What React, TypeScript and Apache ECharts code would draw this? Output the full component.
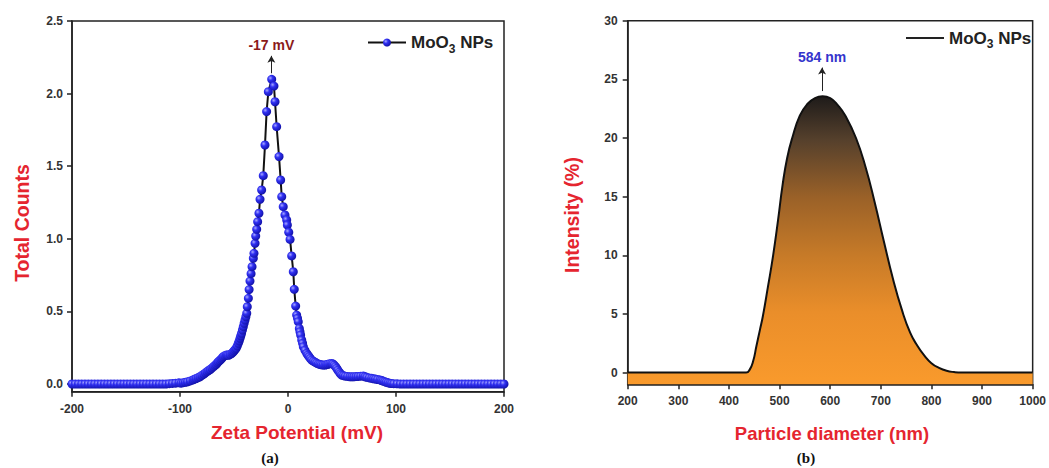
import React, { useEffect, useRef } from "react";
import * as echarts from "echarts";

// ---------- Data ----------
// (a) Zeta potential distribution: [mV, total counts]
const zetaLeftTail: [number, number][] = [
  [-200, 0], [-197, 0], [-194, 0], [-191, 0], [-188, 0], [-185, 0], [-182, 0], [-179, 0],
  [-176, 0], [-173, 0], [-170, 0], [-167, 0], [-164, 0], [-161, 0], [-158, 0], [-155, 0],
  [-152, 0], [-149, 0], [-146, 0], [-143, 0], [-140, 0], [-137, 0], [-134, 0], [-131, 0],
  [-128, 0], [-125, 0], [-122, 0], [-119, 0], [-116, 0], [-113, 0], [-110, 0.002],
  [-107, 0.004], [-104, 0.006], [-101, 0.008],
];
const zetaPeak: [number, number][] = [
  [-99, 0.006], [-97, 0.009], [-95, 0.012], [-93, 0.015], [-90.5, 0.021], [-88, 0.028],
  [-86.5, 0.033], [-85, 0.038], [-83.2, 0.044], [-81.5, 0.05], [-79.8, 0.059], [-78, 0.068],
  [-76.5, 0.077], [-75, 0.085], [-73.5, 0.093], [-72, 0.1], [-70.5, 0.11], [-69, 0.119],
  [-67.7, 0.128], [-66.5, 0.135], [-65.5, 0.145], [-64.5, 0.154], [-63.2, 0.162], [-62, 0.17],
  [-61, 0.179], [-60, 0.188], [-58.5, 0.195], [-57, 0.2], [-56, 0.2], [-55, 0.198],
  [-53.5, 0.204], [-52, 0.211], [-51, 0.219], [-50, 0.228], [-49, 0.237], [-48, 0.246],
  [-47, 0.262], [-46, 0.28], [-45.2, 0.297], [-44.4, 0.315], [-43.7, 0.332], [-43, 0.349],
  [-42.2, 0.372], [-41.4, 0.395], [-40.6, 0.418], [-39.8, 0.44], [-39, 0.463], [-38.2, 0.487],
  [-37.7, 0.532], [-36.7, 0.59], [-36, 0.65], [-35.2, 0.709], [-34.2, 0.76], [-33.3, 0.808],
  [-32.1, 0.866], [-31.5, 0.9], [-30.5, 0.969], [-29.9, 1.019], [-29, 1.065], [-28.1, 1.118],
  [-26.9, 1.176], [-25.9, 1.272], [-24.4, 1.336], [-22.9, 1.435], [-21.3, 1.646], [-19.8, 1.876],
  [-18.2, 2.013], [-15.1, 2.098], [-13, 2.052], [-12, 1.944], [-10.5, 1.772], [-8.3, 1.566],
  [-6.8, 1.405], [-5.8, 1.29], [-4.4, 1.221], [-2.8, 1.164], [-1.2, 1.13], [-0.6, 1.095],
  [0.7, 1.045], [1.9, 0.996], [3.4, 0.882], [4.9, 0.773], [5.8, 0.652], [7.1, 0.537],
  [8, 0.475], [8.8, 0.452], [9.5, 0.429], [10.5, 0.383], [11.1, 0.36], [11.7, 0.337],
  [12.7, 0.303], [13.5, 0.28], [14.2, 0.257], [15.7, 0.232], [17.3, 0.211], [18.4, 0.199],
  [19.5, 0.188], [20.7, 0.176], [21.9, 0.165], [23.5, 0.157], [25, 0.15], [26.5, 0.144],
  [28.1, 0.138], [29.5, 0.135], [31, 0.132], [32.6, 0.131], [34.3, 0.131], [35.7, 0.133],
  [37, 0.136], [38.7, 0.14], [40.4, 0.142], [41.6, 0.138], [42.8, 0.13], [44, 0.12],
  [45.1, 0.108], [46.2, 0.095], [47.4, 0.082], [48.5, 0.071], [49.7, 0.062], [51.3, 0.057],
  [53, 0.054], [55.2, 0.052], [57.4, 0.05], [59.2, 0.05], [61, 0.05], [63, 0.051],
  [65, 0.052], [67.3, 0.054], [69.7, 0.055], [71.3, 0.05], [73, 0.046], [75.2, 0.042],
  [77.5, 0.039], [79.2, 0.036], [81, 0.034], [83, 0.031], [85.2, 0.028], [86.6, 0.024],
  [88, 0.02], [89.5, 0.016], [91, 0.012], [92.7, 0.008], [94.4, 0.005], [96, 0.003],
  [98, 0.002], [101, 0.001],
];
const zetaRightTail: [number, number][] = [
  [104, 0], [107, 0], [110, 0], [113, 0], [116, 0], [119, 0], [122, 0], [125, 0], [128, 0],
  [131, 0], [134, 0], [137, 0], [140, 0], [143, 0], [146, 0], [149, 0], [152, 0], [155, 0],
  [158, 0], [161, 0], [164, 0], [167, 0], [170, 0], [173, 0], [176, 0], [179, 0], [182, 0],
  [185, 0], [188, 0], [191, 0], [194, 0], [197, 0], [200, 0],
];

// (b) Particle size distribution: [nm, intensity %]
const sizeData: [number, number][] = [
  [200, 0], [300, 0], [400, 0], [434, 0], [441, 0.25],
  [448, 1.0], [454, 2.2], [461, 3.6], [467, 4.8], [477, 7.3], [487, 9.9], [497, 13.0],
  [506, 16.0], [515, 18.3], [525, 20.0], [540, 21.9], [555, 22.9], [570, 23.4], [585, 23.55],
  [600, 23.4], [615, 22.8], [630, 21.9], [651, 20.0], [670, 17.5], [688, 14.5], [706, 11.2],
  [724, 8.0], [742, 5.3], [758, 3.4], [772, 2.3], [785, 1.5], [800, 0.8], [815, 0.4],
  [830, 0.15], [845, 0.04], [860, 0], [930, 0], [1000, 0],
];

const zetaTicks = [0, 0.5, 1.0, 1.5, 2.0, 2.5];
const sizeTicks = [0, 5, 10, 15, 20, 25, 30];
const zetaPeakLabel = "-17 mV";
const sizePeakLabel = "584 nm";

const SANS = 'Arial, "Liberation Sans", sans-serif';
const SERIF = '"Times New Roman", "Liberation Serif", serif';
const TITLE_RED = "#e5252f";

function axisCommon() {
  return {
    axisLine: { show: true, onZero: false, lineStyle: { color: "#222", width: 1.5 } },
    axisTick: { show: true, inside: false, length: 5, lineStyle: { color: "#222", width: 1.5 } },
    splitLine: { show: false },
  };
}

const labelStyle = { fontWeight: "bold", fontSize: 12, color: "#333", fontFamily: SANS };

export default function App() {
  const ref = useRef<HTMLDivElement>(null);
  useEffect(() => {
    if (!ref.current) return;
    const chart = echarts.init(ref.current, undefined, { renderer: "svg" });
    const zetaAll = [...zetaLeftTail, ...zetaPeak, ...zetaRightTail];
    const sphere = new echarts.graphic.RadialGradient(0.35, 0.35, 0.75, [
      { offset: 0, color: "#a8a8ff" },
      { offset: 0.35, color: "#3030f2" },
      { offset: 1, color: "#0c0c9c" },
    ]);
    const areaGrad = new echarts.graphic.LinearGradient(0, 0, 0, 1, [
      { offset: 0, color: "#1e1b1a" },
      { offset: 0.15, color: "#55402c" },
      { offset: 0.35, color: "#9a6128" },
      { offset: 0.55, color: "#c67a28" },
      { offset: 0.75, color: "#ea8e2a" },
      { offset: 1, color: "#f99a2c" },
    ]);
    const richLegend = {
      a: { fontSize: 17, fontWeight: "bold", color: "#222", fontFamily: SANS, lineHeight: 20 },
      s: { fontSize: 12, fontWeight: "bold", color: "#222", fontFamily: SANS, lineHeight: 13, padding: [13, 0, 0, 0] },
    };
    const option: any = {
      animation: false,
      grid: [
        { left: 72, top: 21, width: 432, height: 370.7, show: true, borderColor: "#222", borderWidth: 1.5 },
        { left: 627.7, top: 20.7, width: 406.3, height: 363.6, show: true, borderColor: "#222", borderWidth: 1.5 },
      ],
      xAxis: [
        {
          gridIndex: 0, type: "value", min: -200, max: 200, interval: 100, ...axisCommon(),
          axisLabel: { ...labelStyle, margin: 11, formatter: (v: number) => String(v) },
        },
        {
          gridIndex: 1, type: "value", min: 200, max: 1000, interval: 100, ...axisCommon(),
          axisLabel: { ...labelStyle, margin: 11, formatter: (v: number) => String(v) },
        },
      ],
      yAxis: [
        {
          gridIndex: 0, type: "value", min: -0.053, max: 2.5, ...axisCommon(),
          axisTick: { ...axisCommon().axisTick, customValues: zetaTicks },
          axisLabel: { ...labelStyle, margin: 9, customValues: zetaTicks, formatter: (v: number) => v.toFixed(1) },
        },
        {
          gridIndex: 1, type: "value", min: -1, max: 30, ...axisCommon(),
          axisTick: { ...axisCommon().axisTick, customValues: sizeTicks },
          axisLabel: { ...labelStyle, margin: 10, customValues: sizeTicks, formatter: (v: number) => String(v) },
        },
      ],
      legend: [
        {
          data: ["zeta"], left: 367, top: 30, padding: 0, itemWidth: 38, itemHeight: 10,
          formatter: () => "{a|MoO}{s|3}{a| NPs}", textStyle: { rich: richLegend },
          selectedMode: false,
        },
        {
          data: [{ name: "size", icon: "rect", itemStyle: { color: "#222" } }], left: 906, top: 25.5, padding: 0,
          itemWidth: 38, itemHeight: 2.2,
          formatter: () => "{a|MoO}{s|3}{a| NPs}", textStyle: { rich: richLegend },
          selectedMode: false,
        },
      ],
      series: [
        {
          name: "zeta", type: "line", xAxisIndex: 0, yAxisIndex: 0, data: zetaAll,
          symbol: "circle", symbolSize: 9, showSymbol: true,
          itemStyle: { color: sphere, borderWidth: 0 },
          lineStyle: { color: "#111", width: 2 },
          markLine: {
            silent: true, symbol: ["none", "arrow"], symbolSize: [6, 7],
            lineStyle: { color: "#222", width: 1, type: "solid" },
            label: {
              show: true, position: "end", distance: 4, formatter: zetaPeakLabel,
              color: "#8b1a1a", fontWeight: "bold", fontSize: 14, fontFamily: SANS,
            },
            data: [[{ coord: [-15.4, 2.14] }, { coord: [-15.4, 2.26] }]],
          },
        },
        {
          name: "size", type: "line", xAxisIndex: 1, yAxisIndex: 1, data: sizeData,
          symbol: "none", smooth: 0.5,
          lineStyle: { color: "#111", width: 2 },
          itemStyle: { color: "#111" },
          areaStyle: { color: areaGrad, origin: "start", opacity: 1 },
          markLine: {
            silent: true, symbol: ["none", "arrow"], symbolSize: [6, 7],
            lineStyle: { color: "#222", width: 1, type: "solid" },
            label: {
              show: true, position: "end", distance: 4, formatter: sizePeakLabel,
              color: "#3434cc", fontWeight: "bold", fontSize: 14, fontFamily: SANS,
            },
            data: [[{ coord: [584, 24.0] }, { coord: [584, 26.0] }]],
          },
        },
      ],
      graphic: [
        {
          type: "text", x: 22, y: 223, rotation: Math.PI / 2,
          style: { text: "Total Counts", fill: TITLE_RED, font: `bold 19.5px ${SANS}`, textAlign: "center", textVerticalAlign: "middle" },
        },
        {
          type: "text", x: 572, y: 215, rotation: Math.PI / 2,
          style: { text: "Intensity (%)", fill: TITLE_RED, font: `bold 19.5px ${SANS}`, textAlign: "center", textVerticalAlign: "middle" },
        },
        {
          type: "text", x: 297, y: 432,
          style: { text: "Zeta Potential (mV)", fill: TITLE_RED, font: `bold 19px ${SANS}`, textAlign: "center", textVerticalAlign: "middle" },
        },
        {
          type: "text", x: 832, y: 433,
          style: { text: "Particle diameter (nm)", fill: TITLE_RED, font: `bold 18.5px ${SANS}`, textAlign: "center", textVerticalAlign: "middle" },
        },
        {
          type: "text", x: 270, y: 458,
          style: { text: "(a)", fill: "#111", font: `bold 15px ${SERIF}`, textAlign: "center", textVerticalAlign: "middle" },
        },
        {
          type: "text", x: 806, y: 458,
          style: { text: "(b)", fill: "#111", font: `bold 15px ${SERIF}`, textAlign: "center", textVerticalAlign: "middle" },
        },
      ],
    };
    chart.setOption(option);
    return () => chart.dispose();
  }, []);
  return (
    <div
      ref={ref}
      style={{ position: "fixed", left: 0, top: 0, width: 1049, height: 468, background: "#fff" }}
    />
  );
}
